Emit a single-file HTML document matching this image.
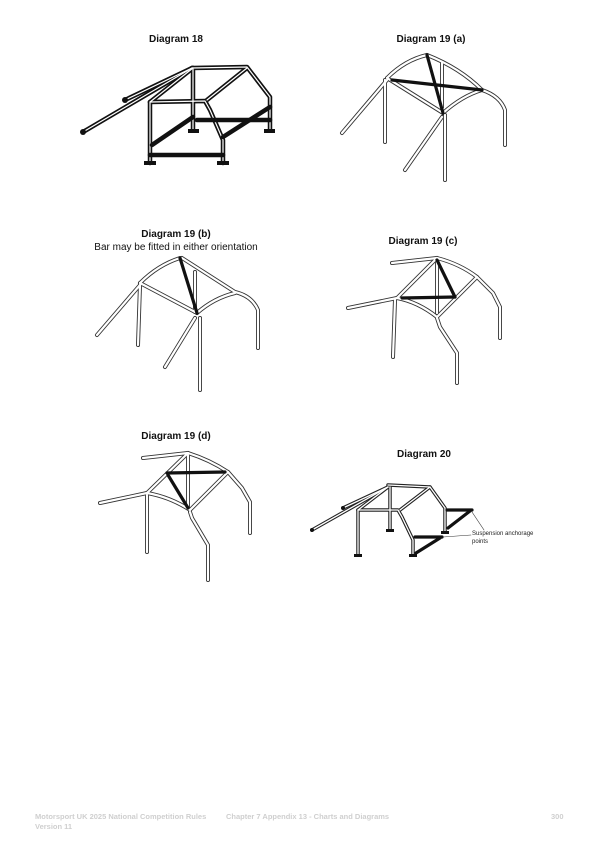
<!DOCTYPE html>
<html><head><meta charset="utf-8"><style>
html,body{margin:0;padding:0;background:#fff;}
body{width:600px;height:849px;position:relative;overflow:hidden;font-family:"Liberation Sans",sans-serif;}
.t{position:absolute;font-weight:bold;font-size:10px;color:#111;transform:translateX(-50%);white-space:nowrap;}
.f{position:absolute;font-size:7.5px;font-weight:bold;color:#cfcfcf;white-space:nowrap;}
svg{position:absolute;left:0;top:0;}
</style></head><body>
<div class="t" style="left:176px;top:34px">Diagram 18</div>
<div class="t" style="left:431px;top:34px">Diagram 19 (a)</div>
<div class="t" style="left:176px;top:229px">Diagram 19 (b)</div>
<div class="t" style="left:176px;top:242px;font-weight:normal">Bar may be fitted in either orientation</div>
<div class="t" style="left:423px;top:236px">Diagram 19 (c)</div>
<div class="t" style="left:176px;top:431px">Diagram 19 (d)</div>
<div class="t" style="left:424px;top:449px">Diagram 20</div>

<svg width="600" height="849" viewBox="0 0 600 849" fill="none" stroke-linecap="round" stroke-linejoin="round">
<defs>
<!-- Diagram 18 -->
<g id="d18">
<path d="M192 68 L247 67 L270 97 L270 130"/>
<path d="M193 68 L193 130"/>
<path d="M150 102 L205 101 L210 110 L223 140 L223 163"/>
<path d="M150 102 L150 163"/>
<path d="M207 100 L247 68"/>
<path d="M150 102 L193 68"/>
<path d="M83 132 L192 68"/>
<path d="M125 100 L192 68"/>
</g>
<!-- 19a -->
<g id="d19a">
<path d="M387 78 Q405 60 427 55"/>
<path d="M427 55 Q460 68 482 90 Q500 96 505 110 L505 145"/>
<path d="M387 78 L443 113"/>
<path d="M443 113 Q462 96 482 90"/>
<path d="M385 80 L385 142"/>
<path d="M387 80 L342 133"/>
<path d="M445 115 L445 180"/>
<path d="M442 117 L405 170"/>
<path d="M442 63 L442 107"/>
</g>
<!-- 19b -->
<g id="d19b">
<path d="M140 283 Q158 265 180 258"/>
<path d="M182 258 L235 292 Q252 296 258 310 L258 348"/>
<path d="M140 283 L197 313"/>
<path d="M197 313 Q214 298 235 293"/>
<path d="M140 285 L138 345"/>
<path d="M140 285 L97 335"/>
<path d="M200 318 L200 390"/>
<path d="M195 318 L165 367"/>
<path d="M195 272 L195 312"/>
</g>
<!-- 19c -->
<g id="d19c">
<path d="M437 258 L392 263"/>
<path d="M437 258 L397 298"/>
<path d="M437 258 Q460 264 477 277 L493 293 L500 307 L500 338"/>
<path d="M397 298 Q418 302 437 317"/>
<path d="M437 317 L477 277"/>
<path d="M397 298 L348 308"/>
<path d="M395 300 L393 357"/>
<path d="M437 318 L440 327 L457 353 L457 383"/>
<path d="M437 260 L437 313"/>
</g>
<!-- 19d -->
<g id="d19d">
<path d="M188 453 L143 458"/>
<path d="M188 453 L147 493"/>
<path d="M188 453 Q210 460 228 472 L242 488 L250 502 L250 533"/>
<path d="M147 493 Q170 497 190 510"/>
<path d="M190 510 L228 472"/>
<path d="M147 493 L100 503"/>
<path d="M147 495 L147 552"/>
<path d="M190 512 L192 518 L208 545 L208 580"/>
<path d="M188 455 L188 507"/>
</g>
<!-- 20 -->
<g id="d20">
<path d="M388 485 L430 487 L445 508 L445 532"/>
<path d="M390 487 L390 530"/>
<path d="M358 510 L398 510 L402 517 L413 540 L413 555"/>
<path d="M358 510 L358 555"/>
<path d="M400 510 L430 487"/>
<path d="M312 530 L388 487"/>
<path d="M343 508 L388 487"/>
<path d="M358 510 L388 487"/>
</g>
</defs>

<use href="#d18" stroke="#111" stroke-width="4.5"/>
<use href="#d18" stroke="#fff" stroke-width="1.2"/>
<g stroke="#111" stroke-width="4.5">
<path d="M152 145 L193 117"/><path d="M150 155 L223 155"/><path d="M197 120 L270 120"/><path d="M223 137 L270 107"/>
</g>
<g fill="#111" stroke="none">
<rect x="144" y="161" width="12" height="4"/><rect x="217" y="161" width="12" height="4"/>
<rect x="188" y="129" width="11" height="4"/><rect x="264" y="129" width="11" height="4"/>
<circle cx="83" cy="132" r="3"/><circle cx="125" cy="100" r="3"/>
</g>

<use href="#d19a" stroke="#333" stroke-width="4"/>
<use href="#d19a" stroke="#fff" stroke-width="2.2"/>
<g stroke="#111" stroke-width="3.2"><path d="M427 55 L443 113"/><path d="M392 80 L482 90"/></g>

<use href="#d19b" stroke="#333" stroke-width="4"/>
<use href="#d19b" stroke="#fff" stroke-width="2.2"/>
<path d="M180 258 L197 313" stroke="#111" stroke-width="3.2"/>

<use href="#d19c" stroke="#333" stroke-width="4"/>
<use href="#d19c" stroke="#fff" stroke-width="2.2"/>
<g stroke="#111" stroke-width="3.2"><path d="M437 260 L455 297"/><path d="M402 298 L455 297"/></g>

<use href="#d19d" stroke="#333" stroke-width="4"/>
<use href="#d19d" stroke="#fff" stroke-width="2.2"/>
<g stroke="#111" stroke-width="3.2"><path d="M167 473 L225 472"/><path d="M168 475 L188 508"/></g>

<use href="#d20" stroke="#222" stroke-width="3.5"/>
<use href="#d20" stroke="#fff" stroke-width="1.3"/>
<g stroke="#111" stroke-width="3.2">
<path d="M447 510 L472 510"/><path d="M448 528 L470 511"/>
<path d="M415 537 L442 537"/><path d="M416 553 L440 538"/>
</g>
<g fill="#111" stroke="none">
<rect x="354" y="554" width="8" height="3"/><rect x="409" y="554" width="8" height="3"/>
<rect x="386" y="529" width="8" height="3"/><rect x="441" y="531" width="8" height="3"/>
<circle cx="312" cy="530" r="2"/><circle cx="343" cy="508" r="2"/>
</g>
<g stroke="#333" stroke-width="0.6"><path d="M472 512 L484 530"/><path d="M443 537 L471 535"/></g>
<text x="472" y="535" font-family="Liberation Sans, sans-serif" font-size="6" fill="#222" stroke="none">Suspension anchorage</text>
<text x="472" y="543" font-family="Liberation Sans, sans-serif" font-size="6" fill="#222" stroke="none">points</text>
</svg>

<div class="f" style="left:35px;top:812px">Motorsport UK 2025 National Competition Rules</div>
<div class="f" style="left:35px;top:822px">Version 11</div>
<div class="f" style="left:226px;top:812px">Chapter 7 Appendix 13 - Charts and Diagrams</div>
<div class="f" style="left:551px;top:812px">300</div>
</body></html>
